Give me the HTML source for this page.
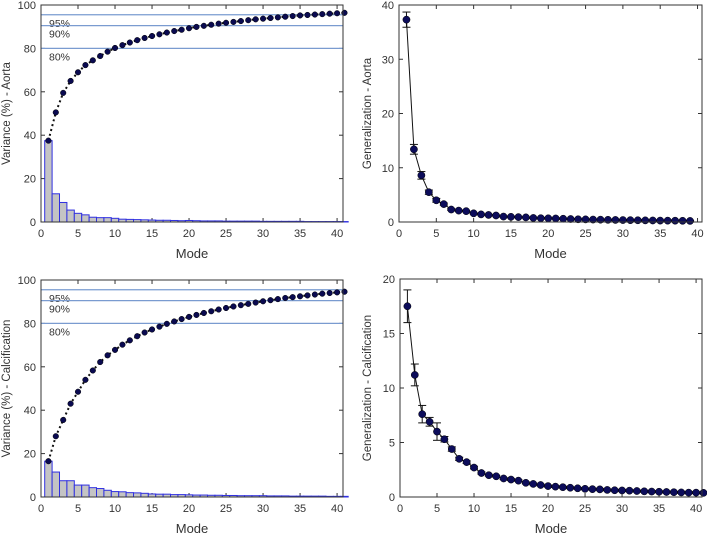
<!DOCTYPE html>
<html><head><meta charset="utf-8"><style>
html,body{margin:0;padding:0;background:#fff;}
svg{display:block;font-family:"Liberation Sans",sans-serif;}
</style></head><body>
<svg id="s" width="707" height="534" xmlns="http://www.w3.org/2000/svg"></svg>
<script>
const S=document.getElementById('s');let out='';
function panel(o){
 const {x0,x1,y0,y1,xmax,ymax,yticks,xticks}=o;
 const X=v=>x0+(v/xmax)*(x1-x0), Y=v=>y1-(v/ymax)*(y1-y0);
 o.X=X;o.Y=Y;
 for(const t of yticks){const y=Y(t);
  out+=`<line x1="${x0}" x2="${x0+4}" y1="${y}" y2="${y}" stroke="#333"/><line x1="${x1-4}" x2="${x1}" y1="${y}" y2="${y}" stroke="#333"/>`;
  out+=`<text x="${x0-5}" y="${y+4}" font-size="11" text-anchor="end" fill="#333">${t}</text>`;}
 for(const t of xticks){const x=X(t);
  out+=`<line x1="${x}" x2="${x}" y1="${y1}" y2="${y1-4}" stroke="#333"/><line x1="${x}" x2="${x}" y1="${y0}" y2="${y0+4}" stroke="#333"/>`;
  out+=`<text x="${x}" y="${y1+15}" font-size="11" text-anchor="middle" fill="#333">${t}</text>`;}
 out+=`<text x="${(x0+x1)/2}" y="${y1+36}" font-size="13" text-anchor="middle" fill="#333">Mode</text>`;
 out+=`<text transform="translate(${o.lx},${(y0+y1)/2}) rotate(-90)" font-size="11.5" text-anchor="middle" fill="#333">${o.ylab}</text>`;
}
function box(o){out+=`<rect x="${o.x0}" y="${o.y0}" width="${o.x1-o.x0}" height="${o.y1-o.y0}" fill="none" stroke="#333" stroke-width="1"/>`;}
function variance(o,cum){
 const {X,Y}=o;
 let prev=0;
 cum.forEach((c,i)=>{const d=c-prev;prev=c;const m=i+1;
  out+=`<rect x="${X(m-0.5)}" y="${Y(d)}" width="${X(1)-X(0)}" height="${Y(0)-Y(d)}" fill="#c4c4c4" stroke="#3030e0" stroke-width="1"/>`;});
 for(const [v,l] of [[95.5,'95%'],[90.5,'90%'],[80,'80%']]){
  out+=`<line x1="${o.x0}" x2="${o.x1}" y1="${Y(v)}" y2="${Y(v)}" stroke="#7a9bd0" stroke-width="1.3"/>`;
  out+=`<text x="${o.x0+8}" y="${Y(v)+12}" font-size="10.5" fill="#333">${l}</text>`;}
 out+=`<polyline fill="none" stroke="#111" stroke-width="2" stroke-dasharray="2,3" points="${cum.map((c,i)=>X(i+1)+','+Y(c)).join(' ')}"/>`;
 cum.forEach((c,i)=>{out+=`<circle cx="${X(i+1)}" cy="${Y(c)}" r="2.8" fill="#0a0a50" stroke="#000" stroke-width="0.5"/>`;});
}
function gen(o,vals,errs){
 const {X,Y}=o;
 out+=`<polyline fill="none" stroke="#111" stroke-width="1" points="${vals.map((c,i)=>X(i+1)+','+Y(c)).join(' ')}"/>`;
 vals.forEach((c,i)=>{const e=errs[i]||0.08;const x=X(i+1);
  out+=`<line x1="${x}" x2="${x}" y1="${Y(c-e)}" y2="${Y(c+e)}" stroke="#111"/><line x1="${x-4}" x2="${x+4}" y1="${Y(c-e)}" y2="${Y(c-e)}" stroke="#111"/><line x1="${x-4}" x2="${x+4}" y1="${Y(c+e)}" y2="${Y(c+e)}" stroke="#111"/>`;
  out+=`<circle cx="${x}" cy="${Y(c)}" r="3.6" fill="#0c0c5a" stroke="#000" stroke-width="0.5"/>`;});
}
const xt=[0,5,10,15,20,25,30,35,40];
const A={x0:41,x1:343,y0:5,y1:222,xmax:40.8,ymax:100,yticks:[0,20,40,60,80,100],xticks:xt,lx:10,ylab:'Variance (%) - Aorta'};
const B={x0:399,x1:702,y0:5,y1:222,xmax:40.6,ymax:40,yticks:[0,10,20,30,40],xticks:xt,lx:371,ylab:'Generalization - Aorta'};
const C={x0:41,x1:343,y0:280,y1:497,xmax:40.8,ymax:100,yticks:[0,20,40,60,80,100],xticks:xt,lx:10,ylab:'Variance (%) - Calcification'};
const D={x0:400,x1:702,y0:279,y1:497,xmax:40.8,ymax:20,yticks:[0,5,10,15,20],xticks:xt,lx:371,ylab:'Generalization - Calcification'};
[A,B,C,D].forEach(panel);
variance(A,[37.5,50.5,59.5,65,69,72.3,74.5,76.5,78.5,80.2,81.5,82.7,83.8,84.8,85.7,86.5,87.3,88,88.6,89.3,89.9,90.4,90.9,91.4,91.8,92.2,92.6,93,93.4,93.7,94,94.3,94.6,94.9,95.2,95.4,95.6,95.8,96,96.2,96.4]);
variance(C,[16.5,28,35.5,43,48.5,54,58.3,62.2,65.3,67.8,70.2,72.2,74.1,75.8,77.2,78.5,79.8,80.9,82,83,83.9,84.8,85.6,86.4,87.1,87.8,88.4,89,89.6,90.2,90.7,91.2,91.7,92.1,92.5,92.9,93.3,93.7,94,94.3,94.6]);
gen(B,[37.3,13.4,8.6,5.5,4,3.3,2.3,2.1,2.0,1.6,1.4,1.3,1.2,1.0,0.95,0.9,0.85,0.75,0.7,0.68,0.65,0.6,0.55,0.5,0.48,0.45,0.43,0.4,0.38,0.36,0.34,0.32,0.3,0.28,0.26,0.25,0.24,0.22,0.2],[1.4,0.9,0.7,0.4,0.35,0.2,0.15,0.1]);
gen(D,[17.5,11.2,7.6,6.9,6.0,5.3,4.4,3.5,3.2,2.7,2.2,2.0,1.9,1.7,1.6,1.5,1.3,1.2,1.1,1.0,0.95,0.9,0.85,0.8,0.75,0.72,0.7,0.65,0.62,0.6,0.58,0.55,0.52,0.5,0.48,0.46,0.44,0.42,0.4,0.4,0.38],[1.5,1.0,0.8,0.4,0.8,0.25,0.2,0.15,0.12,0.12,0.1]);
[A,B,C,D].forEach(box);
S.innerHTML=out;
</script>
</body></html>
